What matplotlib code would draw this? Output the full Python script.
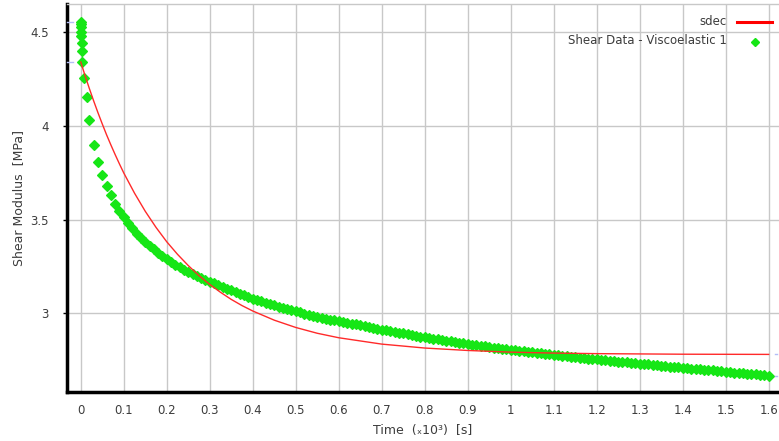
import matplotlib
matplotlib.use("Agg")
import matplotlib.pyplot as plt
from matplotlib.lines import Line2D
import matplotlib.transforms as mtransforms

# ---- Measured relaxation data (time in 10^3 s, shear modulus in MPa) ----
time_data = [
    0.0, 0.0003, 0.0006, 0.001, 0.0015, 0.002, 0.003, 0.004, 0.008, 0.014,
    0.02, 0.03, 0.04, 0.05, 0.06, 0.07, 0.08, 0.09,
    0.10, 0.11, 0.12, 0.13, 0.14, 0.15, 0.16, 0.17, 0.18, 0.19,
    0.20, 0.21, 0.22, 0.23, 0.24, 0.25, 0.26, 0.27, 0.28, 0.29,
    0.30, 0.31, 0.32, 0.33, 0.34, 0.35, 0.36, 0.37, 0.38, 0.39,
    0.40, 0.41, 0.42, 0.43, 0.44, 0.45, 0.46, 0.47, 0.48, 0.49,
    0.50, 0.51, 0.52, 0.53, 0.54, 0.55, 0.56, 0.57, 0.58, 0.59,
    0.60, 0.61, 0.62, 0.63, 0.64, 0.65, 0.66, 0.67, 0.68, 0.69,
    0.70, 0.71, 0.72, 0.73, 0.74, 0.75, 0.76, 0.77, 0.78, 0.79,
    0.80, 0.81, 0.82, 0.83, 0.84, 0.85, 0.86, 0.87, 0.88, 0.89,
    0.90, 0.91, 0.92, 0.93, 0.94, 0.95, 0.96, 0.97, 0.98, 0.99,
    1.00, 1.01, 1.02, 1.03, 1.04, 1.05, 1.06, 1.07, 1.08, 1.09,
    1.10, 1.11, 1.12, 1.13, 1.14, 1.15, 1.16, 1.17, 1.18, 1.19,
    1.20, 1.21, 1.22, 1.23, 1.24, 1.25, 1.26, 1.27, 1.28, 1.29,
    1.30, 1.31, 1.32, 1.33, 1.34, 1.35, 1.36, 1.37, 1.38, 1.39,
    1.40, 1.41, 1.42, 1.43, 1.44, 1.45, 1.46, 1.47, 1.48, 1.49,
    1.50, 1.51, 1.52, 1.53, 1.54, 1.55, 1.56, 1.57, 1.58, 1.59,
    1.60,
]
modulus_data = [
    4.557, 4.544, 4.527, 4.503, 4.482, 4.446, 4.401, 4.342, 4.259, 4.157,
    4.030, 3.900, 3.810, 3.740, 3.680, 3.630, 3.585, 3.548,
    3.512, 3.480, 3.452, 3.425, 3.400, 3.380, 3.360, 3.340, 3.320, 3.303,
    3.287, 3.272, 3.258, 3.245, 3.232, 3.220, 3.209, 3.198, 3.188, 3.178,
    3.168, 3.158, 3.149, 3.139, 3.130, 3.121, 3.112, 3.103, 3.094, 3.086,
    3.077, 3.070, 3.062, 3.055, 3.048, 3.041, 3.034, 3.028, 3.021, 3.015,
    3.009, 3.003, 2.997, 2.991, 2.986, 2.980, 2.975, 2.970, 2.965, 2.961,
    2.957, 2.952, 2.948, 2.943, 2.939, 2.934, 2.930, 2.925, 2.920, 2.916,
    2.911, 2.907, 2.903, 2.899, 2.895, 2.891, 2.886, 2.882, 2.878, 2.874,
    2.870, 2.866, 2.863, 2.859, 2.856, 2.852, 2.848, 2.845, 2.841, 2.838,
    2.834, 2.831, 2.828, 2.825, 2.822, 2.819, 2.815, 2.812, 2.809, 2.806,
    2.803, 2.800, 2.798, 2.795, 2.792, 2.790, 2.787, 2.784, 2.781, 2.779,
    2.777, 2.774, 2.772, 2.769, 2.767, 2.764, 2.762, 2.759, 2.757, 2.754,
    2.752, 2.750, 2.747, 2.745, 2.743, 2.740, 2.738, 2.736, 2.733, 2.731,
    2.729, 2.727, 2.725, 2.722, 2.720, 2.718, 2.716, 2.714, 2.711, 2.709,
    2.707, 2.705, 2.703, 2.701, 2.699, 2.697, 2.695, 2.693, 2.690, 2.688,
    2.686, 2.684, 2.682, 2.680, 2.678, 2.676, 2.674, 2.672, 2.670, 2.668,
    2.666,
]

# ---- "sdec" fitted curve ----
time_fit = [
    0.0, 0.01, 0.02, 0.03, 0.04, 0.05, 0.06, 0.07, 0.08, 0.09, 0.10,
    0.125, 0.15, 0.175, 0.20, 0.225, 0.25, 0.275, 0.30, 0.325, 0.35,
    0.375, 0.40, 0.45, 0.50, 0.55, 0.60, 0.70, 0.80, 0.90, 1.00,
    1.10, 1.20, 1.40, 1.60,
]
modulus_fit = [
    4.342, 4.269, 4.200, 4.134, 4.071, 4.011, 3.953, 3.899, 3.847, 3.797, 3.749,
    3.641, 3.544, 3.458, 3.381, 3.314, 3.254, 3.200, 3.153, 3.111, 3.073,
    3.040, 3.011, 2.962, 2.923, 2.892, 2.868, 2.834, 2.813, 2.800, 2.791,
    2.786, 2.783, 2.780, 2.779,
]

x_ticks = [0, 0.1, 0.2, 0.3, 0.4, 0.5, 0.6, 0.7, 0.8, 0.9, 1.0,
           1.1, 1.2, 1.3, 1.4, 1.5, 1.6]
x_tick_labels = ["0", "0.1", "0.2", "0.3", "0.4", "0.5", "0.6", "0.7", "0.8",
                 "0.9", "1", "1.1", "1.2", "1.3", "1.4", "1.5", "1.6"]
y_ticks = [3, 3.5, 4, 4.5]
y_tick_labels = ["3", "3.5", "4", "4.5"]

fit_label = "sdec"
data_label = "Shear Data - Viscoelastic 1"

TEXT = "#3c3c3c"
GRID = "#c8c8c8"
GREEN = "#16e616"
RED = "#ff2a2a"
MARK = "#b4bdf5"

plt.rcParams["font.family"] = ["DejaVu Sans"]

W, H = 779, 441
fig = plt.figure(figsize=(W / 100, H / 100), dpi=100)
ax = fig.add_axes([67 / W, 49 / H, (W - 67) / W, (392 - 4) / H])

ax.set_xlim(-0.032, 1.624)
ax.set_ylim(2.578, 4.652)

ax.set_xticks(x_ticks)
ax.set_xticklabels(x_tick_labels)
ax.set_yticks(y_ticks)
ax.set_yticklabels(y_tick_labels)
ax.grid(True, color=GRID, linewidth=1.0)
ax.set_axisbelow(True)

ax.tick_params(axis="x", length=0, pad=9, labelsize=8.5, labelcolor=TEXT)
ax.tick_params(axis="y", length=3, width=1, pad=10, labelsize=8.5,
               labelcolor=TEXT, color="black")

for side in ("left", "bottom"):
    ax.spines[side].set_color("black")
    ax.spines[side].set_linewidth(2.5)
ax.spines["top"].set_color(GRID)
ax.spines["top"].set_linewidth(1.0)
ax.spines["right"].set_visible(False)

# data and fit
ax.plot(time_data, modulus_data, linestyle="none", marker="D", markersize=4.6,
        markerfacecolor=GREEN, markeredgecolor=GREEN, markeredgewidth=0.9,
        zorder=3)
ax.plot(time_fit, modulus_fit, color=RED, linewidth=1.0, zorder=4)

# small value markers at the start and end of each series
left_tr = mtransforms.blended_transform_factory(ax.transAxes, ax.transData)
for v in (modulus_data[0], modulus_fit[0]):
    ax.plot([0.0, 0.008], [v, v], transform=left_tr, color=MARK,
            linewidth=1.0, clip_on=False, zorder=5)
for v in (modulus_fit[-1], modulus_data[-1]):
    ax.plot([0.9945, 0.9975], [v, v], transform=left_tr, color=MARK,
            linewidth=1.0, clip_on=False, zorder=5)
    ax.plot([0.9995, 1.0], [v, v], transform=left_tr, color=MARK,
            linewidth=1.0, clip_on=False, zorder=5)

ax.set_xlabel("Time  (ₓ10³)  [s]", fontsize=9, color=TEXT, labelpad=5)
ax.set_ylabel("Shear Modulus  [MPa]", fontsize=9, color=TEXT, labelpad=4)

# legend entries
fig.text(727 / W, 1 - 21.5 / H, fit_label, ha="right", va="center",
         fontsize=8.5, color=TEXT)
fig.add_artist(Line2D([737 / W, 772 / W], [1 - 21.5 / H, 1 - 21.5 / H],
                      transform=fig.transFigure, color="#ff0000", linewidth=2.2))
fig.text(727 / W, 1 - 40.5 / H, data_label, ha="right", va="center",
         fontsize=8.5, color=TEXT)
fig.add_artist(Line2D([755 / W], [1 - 41.5 / H], transform=fig.transFigure,
                      linestyle="none", marker="D", markersize=4.2,
                      markerfacecolor=GREEN, markeredgecolor=GREEN))

fig.savefig("out.png", dpi=100, facecolor="white")
